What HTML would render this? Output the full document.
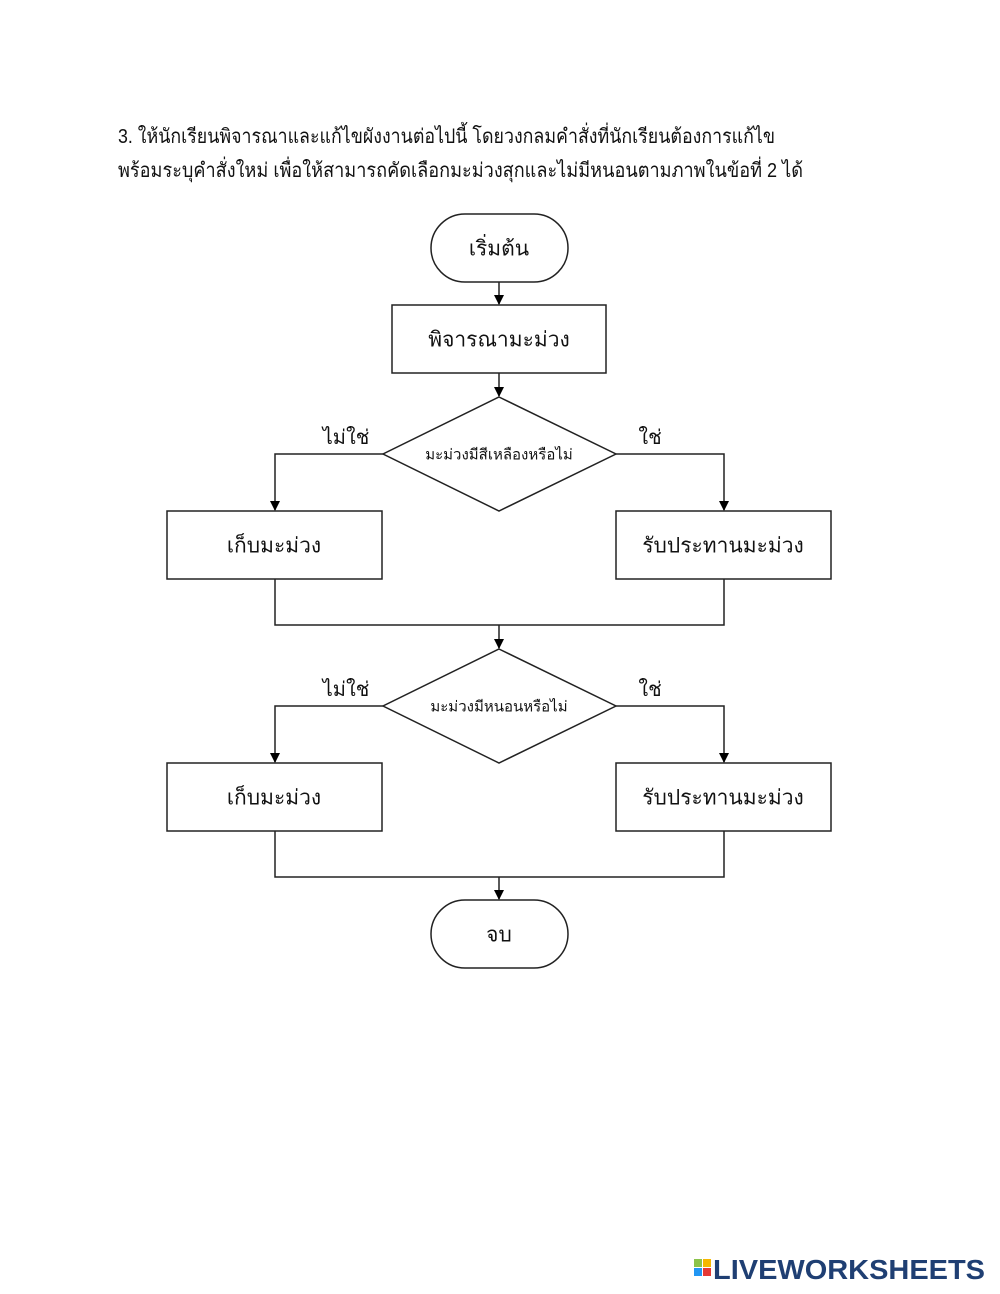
<!DOCTYPE html>
<html><head><meta charset="utf-8"><style>
html,body{margin:0;padding:0;background:#fff;}
body{width:1000px;height:1294px;position:relative;overflow:hidden;font-family:"Liberation Sans","DejaVu Sans",sans-serif;}
</style></head><body>
<svg width="1000" height="1294" style="position:absolute;left:0;top:0" xmlns="http://www.w3.org/2000/svg">
<defs><marker id="a" markerWidth="10" markerHeight="10" refX="9" refY="5" orient="auto" markerUnits="userSpaceOnUse"><path d="M0,0 L10,5 L0,10 Z" fill="#000"/></marker></defs>
<g font-family="Liberation Sans, DejaVu Sans, sans-serif" fill="#111" font-size="20">
<text x="118" y="143" textLength="657" lengthAdjust="spacingAndGlyphs">3. ให้นักเรียนพิจารณาและแก้ไขผังงานต่อไปนี้ โดยวงกลมคำสั่งที่นักเรียนต้องการแก้ไข</text>
<text x="118" y="177" textLength="685" lengthAdjust="spacingAndGlyphs">พร้อมระบุคำสั่งใหม่ เพื่อให้สามารถคัดเลือกมะม่วงสุกและไม่มีหนอนตามภาพในข้อที่ 2 ได้</text>
</g>
<g fill="none" stroke="#222" stroke-width="1.5">
<rect x="431" y="214" width="137" height="68" rx="34"/>
<rect x="392" y="305" width="214" height="68"/>
<polygon points="499,397 616,454 499,511 383,454"/>
<rect x="167" y="511" width="215" height="68"/>
<rect x="616" y="511" width="215" height="68"/>
<polygon points="499,649 616,706 499,763 383,706"/>
<rect x="167" y="763" width="215" height="68"/>
<rect x="616" y="763" width="215" height="68"/>
<rect x="431" y="900" width="137" height="68" rx="34"/>
<line x1="499" y1="282" x2="499" y2="304" marker-end="url(#a)"/>
<line x1="499" y1="373" x2="499" y2="396" marker-end="url(#a)"/>
<polyline points="383,454 275,454 275,510" marker-end="url(#a)"/>
<polyline points="616,454 724,454 724,510" marker-end="url(#a)"/>
<polyline points="275,579 275,625 724,625 724,579"/>
<line x1="499" y1="625" x2="499" y2="648" marker-end="url(#a)"/>
<polyline points="383,706 275,706 275,762" marker-end="url(#a)"/>
<polyline points="616,706 724,706 724,762" marker-end="url(#a)"/>
<polyline points="275,831 275,877 724,877 724,831"/>
<line x1="499" y1="877" x2="499" y2="899" marker-end="url(#a)"/>
</g>
<g font-family="Liberation Sans, DejaVu Sans, sans-serif" fill="#111" text-anchor="middle" dominant-baseline="central">
<text x="499" y="249" font-size="21">เริ่มต้น</text>
<text x="499" y="340" font-size="21">พิจารณามะม่วง</text>
<text x="499" y="455" font-size="15">มะม่วงมีสีเหลืองหรือไม่</text>
<text x="274" y="546" font-size="21">เก็บมะม่วง</text>
<text x="723" y="546" font-size="21">รับประทานมะม่วง</text>
<text x="499" y="707" font-size="15">มะม่วงมีหนอนหรือไม่</text>
<text x="274" y="798" font-size="21">เก็บมะม่วง</text>
<text x="723" y="798" font-size="21">รับประทานมะม่วง</text>
<text x="499" y="935" font-size="21">จบ</text>
<text x="346" y="438" font-size="20">ไม่ใช่</text>
<text x="650" y="438" font-size="20">ใช่</text>
<text x="346" y="690" font-size="20">ไม่ใช่</text>
<text x="650" y="690" font-size="20">ใช่</text>
</g>
<g>
<rect x="694" y="1259" width="8" height="8" fill="#8bc34a"/>
<rect x="703" y="1259" width="8" height="8" fill="#f5b700"/>
<rect x="694" y="1268" width="8" height="8" fill="#2196f3"/>
<rect x="703" y="1268" width="8" height="8" fill="#e53935"/>
<text x="713" y="1279" font-family="Liberation Sans, sans-serif" font-weight="bold" font-size="28" fill="#1f3f73" textLength="272" lengthAdjust="spacingAndGlyphs">LIVEWORKSHEETS</text>
</g>
</svg>
</body></html>
